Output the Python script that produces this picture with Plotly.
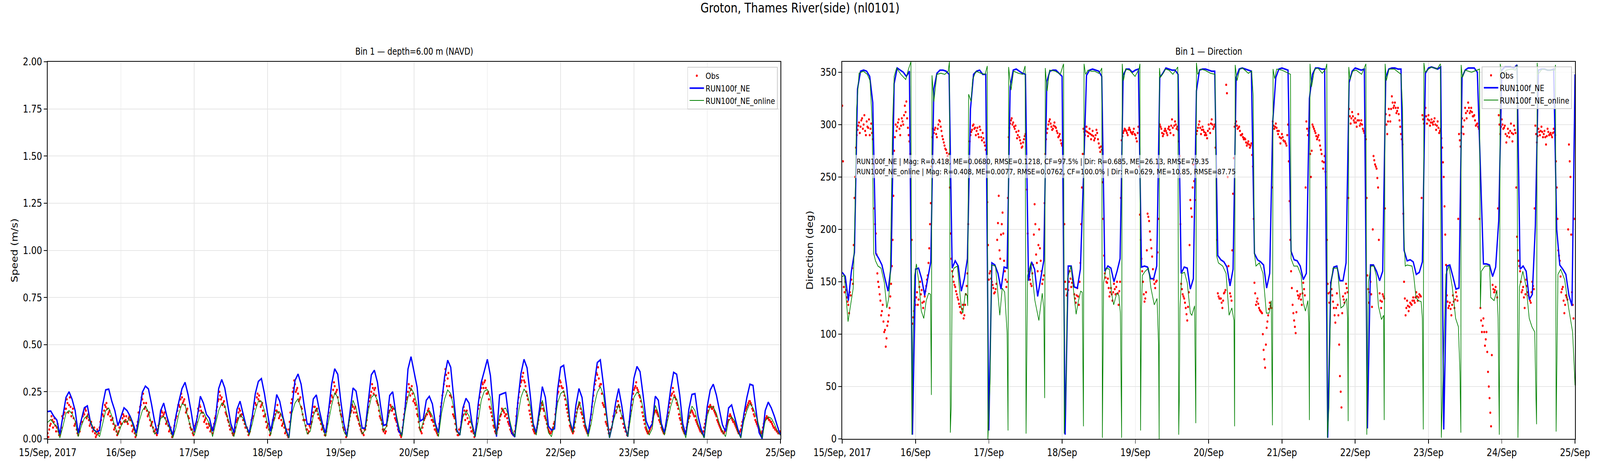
import pandas as pd
import plotly.graph_objects as go

# ---- data ----
start = pd.Timestamp("2017-09-15 00:00")
day_labels = ["15/Sep, 2017", "16/Sep", "17/Sep", "18/Sep", "19/Sep", "20/Sep",
              "21/Sep", "22/Sep", "23/Sep", "24/Sep", "25/Sep"]

model_hours = list(range(241))                 # hourly model output
obs_hours = [i / 2 for i in range(481)]        # observations on the half hour
obs_q_hours = [i / 2 + 0.25 for i in range(480)]  # observations at quarter past / to

# speed (m/s)
run_speed = [
    0.145, 0.148, 0.12, 0.10, 0.025, 0.12, 0.22, 0.25, 0.21, 0.15,
    0.03, 0.10, 0.165, 0.175, 0.09, 0.05, 0.037, 0.045, 0.18, 0.26,
    0.264, 0.20, 0.15, 0.07, 0.12, 0.165, 0.15, 0.12, 0.08, 0.03,
    0.136, 0.247, 0.28, 0.265, 0.185, 0.095, 0.026, 0.15, 0.19, 0.122,
    0.067, 0.02, 0.122, 0.20, 0.267, 0.30, 0.233, 0.143, 0.04, 0.116,
    0.226, 0.19, 0.13, 0.109, 0.04, 0.109, 0.267, 0.315, 0.27, 0.178,
    0.08, 0.033, 0.157, 0.20, 0.136, 0.067, 0.033, 0.12, 0.24, 0.305,
    0.32, 0.24, 0.136, 0.04, 0.12, 0.235, 0.20, 0.12, 0.054, 0.005,
    0.164, 0.31, 0.344, 0.29, 0.178, 0.078, 0.078, 0.212, 0.233, 0.15,
    0.08, 0.03, 0.15, 0.29, 0.372, 0.343, 0.20, 0.08, 0.012, 0.136,
    0.27, 0.253, 0.15, 0.057, 0.057, 0.205, 0.34, 0.364, 0.30, 0.178,
    0.071, 0.078, 0.23, 0.25, 0.136, 0.04, 0.02, 0.15, 0.37, 0.436,
    0.357, 0.274, 0.095, 0.105, 0.205, 0.226, 0.185, 0.08, 0.033, 0.19,
    0.33, 0.417, 0.38, 0.22, 0.047, 0.02, 0.164, 0.215, 0.19, 0.08,
    0.012, 0.185, 0.30, 0.36, 0.422, 0.336, 0.15, 0.012, 0.233, 0.24,
    0.246, 0.116, 0.03, 0.01, 0.20, 0.346, 0.422, 0.377, 0.24, 0.08,
    0.033, 0.15, 0.277, 0.22, 0.067, 0.047, 0.054, 0.26, 0.38, 0.39,
    0.274, 0.095, 0.04, 0.178, 0.267, 0.22, 0.08, 0.028, 0.136, 0.29,
    0.405, 0.419, 0.29, 0.136, 0.006, 0.08, 0.19, 0.267, 0.178, 0.067,
    0.012, 0.178, 0.322, 0.384, 0.357, 0.233, 0.095, 0.054, 0.08, 0.226,
    0.205, 0.08, 0.033, 0.136, 0.26, 0.353, 0.343, 0.233, 0.08, 0.02,
    0.157, 0.236, 0.24, 0.12, 0.054, 0.006, 0.17, 0.26, 0.29, 0.233,
    0.15, 0.074, 0.04, 0.164, 0.18, 0.116, 0.054, 0.006, 0.13, 0.22,
    0.29, 0.284, 0.15, 0.033, 0.002, 0.15, 0.195, 0.164, 0.12, 0.067,
    0.02,
]

online_speed = [
    0.088, 0.103, 0.081, 0.067, 0.005, 0.067, 0.136, 0.15, 0.133, 0.095,
    0.012, 0.067, 0.109, 0.124, 0.095, 0.054, 0.033, 0.012, 0.08, 0.15,
    0.164, 0.122, 0.067, 0.02, 0.067, 0.098, 0.088, 0.116, 0.067, 0.012,
    0.095, 0.15, 0.174, 0.143, 0.08, 0.026, 0.04, 0.109, 0.119, 0.088,
    0.054, 0.005, 0.06, 0.136, 0.186, 0.178, 0.109, 0.054, 0.02, 0.08,
    0.136, 0.14, 0.109, 0.08, 0.012, 0.08, 0.15, 0.19, 0.178, 0.109,
    0.054, 0.012, 0.08, 0.13, 0.109, 0.067, 0.02, 0.08, 0.15, 0.20,
    0.20, 0.15, 0.08, 0.02, 0.088, 0.145, 0.143, 0.109, 0.04, 0.005,
    0.136, 0.19, 0.213, 0.164, 0.095, 0.026, 0.04, 0.122, 0.164, 0.122,
    0.06, 0.012, 0.095, 0.178, 0.245, 0.22, 0.122, 0.04, 0.012, 0.116,
    0.205, 0.164, 0.095, 0.026, 0.047, 0.15, 0.22, 0.236, 0.205, 0.122,
    0.04, 0.067, 0.15, 0.174, 0.143, 0.067, 0.012, 0.136, 0.22, 0.27,
    0.24, 0.178, 0.04, 0.088, 0.136, 0.151, 0.122, 0.067, 0.012, 0.136,
    0.212, 0.26, 0.24, 0.164, 0.04, 0.02, 0.116, 0.147, 0.122, 0.067,
    0.012, 0.095, 0.205, 0.253, 0.262, 0.22, 0.095, 0.02, 0.122, 0.157,
    0.164, 0.122, 0.054, 0.012, 0.122, 0.22, 0.264, 0.24, 0.178, 0.067,
    0.02, 0.122, 0.205, 0.136, 0.033, 0.012, 0.08, 0.19, 0.24, 0.255,
    0.20, 0.088, 0.033, 0.109, 0.20, 0.15, 0.08, 0.012, 0.08, 0.178,
    0.247, 0.277, 0.233, 0.122, 0.005, 0.08, 0.136, 0.183, 0.122, 0.08,
    0.012, 0.122, 0.22, 0.248, 0.233, 0.164, 0.067, 0.02, 0.054, 0.178,
    0.136, 0.067, 0.02, 0.095, 0.17, 0.222, 0.212, 0.15, 0.054, 0.005,
    0.116, 0.174, 0.15, 0.08, 0.04, 0.005, 0.122, 0.17, 0.17, 0.136,
    0.08, 0.04, 0.012, 0.095, 0.117, 0.095, 0.04, 0.005, 0.095, 0.15,
    0.188, 0.164, 0.122, 0.067, 0.005, 0.095, 0.117, 0.109, 0.08, 0.04,
    0.02,
]

obs_speed = [
    .03, .05, .08, .10, .09, .07, .06, .04, .02, .06, .11, .14, .16, .19, .18, .17, .14, .11, .08, .05,
    .02, .04, .09, .12, .13, .15, .12, .10, .08, .06, .05, .03, .02, .04, .06, .10, .13, .15, .17, .16,
    .14, .12, .10, .08, .06, .04, .03, .06, .08, .11, .12, .10, .09, .11, .10, .07, .05, .03, .02, .09,
    .14, .18, .21, .19, .17, .15, .13, .10, .08, .06, .04, .03, .05, .08, .12, .14, .13, .11, .09, .07,
    .05, .03, .02, .07, .11, .15, .18, .21, .22, .20, .18, .15, .12, .08, .05, .03, .04, .08, .12, .15,
    .17, .14, .12, .10, .08, .06, .07, .05, .03, .08, .12, .17, .21, .23, .22, .19, .17, .13, .10, .07,
    .05, .03, .03, .06, .10, .14, .15, .13, .10, .08, .06, .04, .03, .07, .11, .16, .19, .22, .21, .20,
    .18, .15, .12, .09, .07, .05, .03, .06, .10, .13, .15, .14, .12, .10, .08, .06, .04, .02, .05, .14,
    .21, .27, .29, .26, .24, .21, .17, .13, .10, .07, .05, .04, .06, .09, .14, .17, .15, .13, .11, .08,
    .06, .04, .02, .08, .14, .19, .23, .26, .28, .25, .22, .18, .13, .09, .05, .03, .03, .07, .12, .15,
    .17, .16, .14, .11, .08, .05, .03, .02, .05, .10, .17, .22, .25, .27, .26, .23, .19, .15, .11, .08,
    .04, .03, .07, .12, .15, .17, .16, .13, .10, .07, .04, .02, .03, .10, .16, .21, .25, .27, .26, .24,
    .21, .18, .13, .09, .05, .03, .08, .11, .13, .15, .14, .12, .10, .07, .05, .03, .04, .12, .19, .25,
    .31, .34, .32, .28, .23, .17, .12, .08, .04, .02, .05, .09, .13, .15, .13, .11, .09, .06, .04, .03,
    .03, .08, .16, .22, .27, .29, .30, .27, .24, .21, .16, .12, .07, .04, .03, .06, .10, .13, .15, .14,
    .13, .11, .08, .05, .03, .02, .04, .12, .19, .25, .30, .33, .31, .28, .23, .18, .13, .09, .05, .03,
    .04, .08, .13, .16, .18, .15, .11, .08, .05, .03, .04, .06, .09, .16, .24, .28, .30, .27, .25, .21,
    .16, .12, .07, .05, .03, .06, .12, .16, .18, .16, .13, .09, .06, .04, .03, .07, .13, .20, .26, .31,
    .34, .32, .29, .24, .18, .13, .08, .05, .03, .05, .09, .12, .15, .17, .18, .15, .11, .08, .06, .04,
    .03, .09, .15, .21, .26, .28, .27, .25, .22, .17, .12, .08, .05, .03, .04, .06, .09, .13, .15, .14,
    .12, .09, .06, .04, .03, .07, .12, .17, .21, .24, .25, .22, .19, .16, .11, .08, .05, .03, .04, .08,
    .11, .14, .15, .13, .12, .09, .07, .05, .04, .03, .06, .10, .14, .17, .18, .16, .17, .14, .12, .09,
    .07, .05, .04, .03, .05, .08, .10, .13, .11, .09, .08, .06, .04, .03, .05, .09, .11, .15, .17, .19,
    .20, .18, .15, .12, .09, .07, .05, .03, .04, .08, .10, .12, .11, .10, .09, .07, .06, .05, .04, .03,
    .04,
]

obs_speed_q = [
    .01, .07, .12, .06, .11, .04, .08, .02, .04, .12, .13, .16, .21, .14, .22, .12, .16, .07, .09, .03,
    .05, .08, .09, .14, .16, .11, .13, .07, .09, .04, .06, .01, .05, .03, .09, .13, .12, .18, .19, .13,
    .15, .10, .11, .05, .07, .02, .04, .09, .08, .13, .09, .12, .08, .12, .10, .04, .06, .01, .07, .14,
    .17, .22, .24, .16, .19, .12, .14, .07, .09, .04, .05, .02, .07, .11, .15, .12, .14, .08, .10, .04,
    .06, .01, .04, .10, .12, .18, .17, .24, .19, .21, .14, .16, .11, .06, .05, .02, .07, .09, .16, .18,
    .15, .14, .09, .11, .06, .08, .04, .06, .05, .11, .15, .20, .25, .21, .18, .20, .14, .12, .09, .05,
    .06, .02, .04, .09, .11, .16, .12, .13, .10, .06, .06, .02, .04, .10, .12, .19, .18, .24, .23, .17,
    .19, .12, .13, .06, .08, .02, .06, .10, .11, .15, .18, .11, .13, .07, .09, .03, .05, .01, .09, .19,
    .25, .31, .25, .27, .20, .22, .16, .10, .10, .05, .03, .07, .08, .12, .17, .15, .16, .11, .10, .05,
    .07, .02, .04, .12, .17, .20, .22, .30, .24, .26, .19, .15, .12, .06, .05, .01, .05, .10, .14, .18,
    .14, .17, .12, .10, .07, .04, .03, .05, .07, .14, .20, .23, .29, .24, .27, .20, .18, .12, .10, .05,
    .05, .04, .10, .14, .18, .15, .16, .11, .09, .05, .04, .01, .06, .13, .19, .22, .29, .23, .28, .20,
    .19, .16, .12, .06, .04, .06, .10, .12, .13, .16, .13, .10, .09, .05, .04, .02, .08, .17, .23, .29,
    .37, .28, .35, .23, .22, .13, .11, .05, .02, .05, .06, .12, .17, .10, .15, .08, .09, .04, .05, .01,
    .05, .11, .18, .25, .30, .27, .31, .24, .25, .17, .14, .10, .06, .03, .05, .08, .12, .16, .15, .12,
    .13, .09, .07, .04, .03, .02, .07, .16, .22, .28, .31, .35, .30, .25, .21, .15, .11, .07, .04, .03,
    .06, .10, .15, .19, .16, .12, .10, .06, .04, .03, .05, .08, .13, .20, .25, .31, .28, .27, .23, .18,
    .14, .10, .06, .04, .04, .09, .14, .17, .19, .14, .11, .07, .05, .03, .05, .10, .17, .23, .29, .35,
    .38, .28, .29, .19, .17, .09, .07, .03, .05, .06, .12, .15, .14, .20, .17, .11, .12, .06, .04, .02,
    .06, .12, .18, .24, .27, .30, .26, .23, .20, .14, .10, .06, .04, .03, .05, .07, .11, .14, .15, .13,
    .10, .08, .05, .03, .05, .10, .14, .19, .23, .27, .23, .21, .18, .13, .10, .06, .04, .03, .06, .09,
    .12, .15, .14, .12, .10, .08, .06, .04, .03, .04, .08, .12, .15, .17, .17, .16, .15, .13, .10, .08,
    .06, .04, .03, .04, .07, .09, .12, .12, .10, .09, .07, .05, .03, .04, .07, .10, .13, .16, .18, .20,
    .19, .16, .13, .10, .08, .06, .04, .03, .06, .09, .11, .11, .10, .09, .08, .06, .05, .04, .03, .03,
]

# direction (deg)
run_dir = [
    159, 155, 132, 160, 178, 334, 351, 352, 351, 346,
    321, 177, 172, 166, 153, 141, 165, 339, 354, 352,
    350, 346, 351, 4, 162, 163, 153, 137, 153, 169,
    334, 349, 352, 352, 351, 348, 163, 170, 165, 141,
    153, 172, 315, 348, 351, 352, 348, 348, 8, 168,
    166, 158, 143, 164, 163, 336, 352, 353, 351, 349,
    348, 151, 169, 162, 136, 153, 170, 341, 351, 352,
    352, 349, 346, 4, 165, 165, 145, 144, 162, 250,
    347, 352, 353, 352, 351, 346, 160, 165, 163, 150,
    160, 172, 347, 353, 353, 350, 352, 353, 164, 165,
    164, 153, 153, 165, 345, 349, 354, 353, 352, 352,
    348, 158, 164, 163, 143, 153, 332, 352, 353, 353,
    352, 351, 351, 175, 171, 169, 164, 146, 162, 345,
    353, 354, 353, 352, 351, 177, 171, 169, 166, 144,
    158, 303, 345, 353, 354, 353, 352, 179, 171, 170,
    165, 152, 158, 325, 348, 354, 354, 353, 353, 1,
    149, 164, 165, 151, 151, 168, 340, 351, 354, 353,
    352, 353, 10, 166, 166, 160, 151, 160, 345, 353,
    354, 354, 353, 353, 180, 170, 171, 169, 157, 159,
    169, 349, 354, 355, 354, 353, 355, 9, 165, 166,
    155, 143, 144, 345, 352, 354, 354, 354, 350, 260,
    167, 167, 166, 155, 164, 208, 352, 355, 355, 355,
    354, 357, 162, 165, 160, 133, 138, 203, 352, 353,
    353, 352, 352, 353, 200, 166, 162, 157, 137, 127,
    348,
]

online_dir_hours = [
    0, 0.7, 1.9, 2.6, 3.4, 3.6, 4.2, 4.7, 5.5, 6.9, 8.2, 9.1,
    9.8, 10.3, 10.9, 11.7, 12.7, 13.8, 14.6, 15.2, 15.7, 16.5, 17, 17.8,
    19.2, 20.8, 21.6, 22.3, 22.5, 22.8, 23.2, 23.7, 24.3, 25.1, 25.9, 26.7,
    27.5, 28.3, 28.9, 29.2, 29.4, 30, 31, 32.3, 33.6, 34.7, 35.1, 35.4,
    35.7, 36, 36.6, 37.7, 39, 39.5, 40.3, 40.9, 41.1, 41.4, 42.2, 42.7,
    43.8, 45.4, 46.8, 47.5, 47.7, 48.4, 48.9, 50.2, 51.6, 52.4, 53.2, 54,
    54.3, 54.5, 55.3, 56.1, 57.7, 59.1, 59.9, 60.2, 60.7, 61.8, 63.1, 64.4,
    65.5, 66, 66.3, 66.5, 67.1, 67.9, 69.8, 71.4, 72.5, 72.7, 73.3, 73.8,
    74.9, 75.6, 76.6, 77.3, 78.1, 78.6, 79, 79.2, 79.7, 80.5, 81.6, 82.7,
    84, 84.7, 85, 85.2, 85.6, 86.4, 87.5, 88.2, 88.9, 89.9, 90.6, 91.1,
    91.5, 91.7, 92.1, 92.8, 94.1, 95.9, 97.2, 97.5, 97.7, 98, 98.3, 99.2,
    100.3, 101.1, 102.2, 103.1, 103.6, 103.8, 103.9, 104.2, 105.1, 105.9, 107, 108.3,
    109.9, 110.2, 110.4, 110.6, 111.2, 112.1, 113, 114, 114.5, 115.4, 115.8, 116,
    116.4, 117.3, 118.7, 120.6, 122.1, 122.6, 123.2, 124.6, 125.7, 126.7, 127.6, 128.3,
    128.5, 128.7, 129.3, 130.2, 131.1, 133, 134.1, 134.6, 135, 135.5, 136.6, 137.8,
    138.5, 138.9, 139.8, 140.5, 140.9, 141.1, 141.6, 142.3, 144, 146, 146.8, 147,
    147.9, 149.1, 150.3, 151, 151.7, 152.5, 152.8, 153, 153.2, 153.7, 154.7, 155.8,
    157.2, 158.3, 158.7, 158.9, 159.4, 160, 160.7, 162.2, 163.3, 164.2, 165.2, 165.5,
    165.7, 165.9, 166.3, 167.2, 168.3, 170.1, 171.5, 171.8, 172.3, 173.2, 174.1, 174.9,
    175.6, 176.6, 177.3, 177.5, 177.8, 178.2, 179.1, 180.8, 183, 183.5, 184, 184.4,
    185, 186.6, 187.2, 187.9, 188.7, 189.6, 190, 190.3, 190.5, 190.9, 192, 193.1,
    194.8, 195.9, 196.2, 196.8, 197.7, 198.7, 199.8, 200.9, 201.8, 202.3, 202.6, 202.7,
    203.1, 204, 206.1, 207.9, 208.7, 209, 209.3, 210.5, 212, 212.4, 213.5, 214.4,
    214.8, 215.2, 215.5, 216.1, 217.4, 219.2, 220.5, 221, 221.3, 221.8, 222.9, 224,
    225, 225.9, 226.8, 227.2, 227.4, 227.6, 227.9, 229.2, 231.3, 233.3, 233.6, 233.8,
    234.4, 235.3, 236.6, 237.9, 239.2, 239.8, 240,
]
online_dir = [
    155, 156, 112, 125, 140, 144, 220, 315, 349, 351, 348, 342,
    303, 177, 170, 165, 163, 149, 125, 134, 153, 303, 346, 354,
    348, 343, 352, 358, 360, 4, 101, 156, 167, 149, 122, 115,
    132, 139, 138, 42, 347, 322, 348, 349, 348, 351, 360, 6,
    32, 158, 163, 165, 125, 120, 139, 137, 127, 329, 322, 343,
    351, 349, 348, 356, 0, 53, 166, 165, 118, 144, 140, 101,
    8, 355, 333, 351, 349, 348, 356, 5, 156, 168, 132, 113,
    139, 125, 39, 354, 332, 352, 351, 348, 358, 5, 53, 153,
    165, 146, 119, 131, 141, 140, 12, 358, 348, 352, 351, 351,
    349, 352, 354, 1, 149, 163, 162, 139, 128, 139, 137, 120,
    1, 358, 342, 353, 352, 346, 353, 358, 8, 125, 156, 160,
    163, 144, 128, 134, 89, 0, 354, 345, 349, 353, 352, 348,
    355, 4, 39, 125, 158, 159, 149, 120, 118, 127, 15, 359,
    348, 353, 352, 349, 348, 175, 168, 165, 158, 118, 125, 113,
    12, 357, 342, 353, 354, 349, 351, 327, 177, 165, 168, 158,
    134, 120, 120, 132, 13, 353, 344, 353, 352, 349, 348, 172,
    165, 165, 156, 130, 122, 132, 111, 18, 358, 336, 353, 354,
    349, 353, 358, 1, 30, 144, 163, 163, 125, 127, 134, 115,
    17, 355, 343, 351, 352, 348, 358, 4, 149, 165, 165, 156,
    127, 114, 118, 18, 358, 342, 353, 353, 348, 316, 190, 165,
    166, 165, 155, 135, 132, 131, 115, 9, 359, 350, 353, 355,
    353, 358, 1, 64, 157, 165, 145, 115, 107, 64, 6, 357,
    345, 352, 350, 352, 353, 125, 160, 165, 165, 135, 132, 142,
    115, 4, 358, 347, 352, 353, 352, 357, 1, 145, 160, 145,
    115, 107, 102, 39, 14, 359, 348, 353, 352, 352, 357, 7,
    157, 162, 152, 125, 102, 64, 51,
]

obs_dir = [
    318, 145, 150, 135, 128, 140, 152, 148, 230, 278, 295, 302, 298, 306, 300, 294, 303, 297, 290, 301,
    286, 220, 196, 158, 145, 132, 122, 112, 104, 96, 112, 125, 148, 190, 275, 300, 298, 305, 290, 306,
    300, 318, 322, 297, 284, 250, 110, 122, 128, 140, 133, 150, 142, 125, 136, 146, 156, 182, 225, 288,
    292, 297, 288, 300, 303, 294, 286, 280, 276, 270, 272, 196, 160, 150, 145, 138, 133, 126, 120, 128,
    118, 138, 158, 268, 290, 295, 300, 297, 294, 291, 298, 288, 292, 283, 276, 226, 152, 160, 150, 144,
    140, 148, 206, 180, 195, 216, 170, 152, 150, 288, 301, 306, 302, 296, 293, 290, 288, 282, 279, 286,
    291, 238, 160, 152, 146, 166, 224, 176, 160, 200, 170, 148, 156, 272, 292, 300, 305, 298, 296, 302,
    297, 292, 289, 285, 280, 252, 150, 137, 142, 160, 145, 152, 138, 130, 144, 128, 168, 240, 296, 290,
    298, 289, 296, 286, 294, 285, 290, 292, 282, 274, 276, 210, 158, 150, 153, 136, 144, 132, 148, 138,
    150, 128, 150, 285, 292, 296, 294, 290, 297, 293, 291, 296, 290, 284, 298, 214, 172, 150, 131, 140,
    215, 208, 190, 174, 152, 144, 151, 210, 300, 296, 289, 294, 294, 290, 298, 292, 305, 290, 303, 296,
    295, 270, 148, 138, 134, 125, 113, 140, 228, 212, 262, 228, 291, 297, 303, 291, 298, 293, 292, 287,
    300, 292, 305, 296, 300, 250, 139, 134, 134, 125, 139, 142, 330, 165, 139, 132, 234, 298, 303, 296,
    298, 290, 291, 286, 286, 280, 284, 278, 282, 260, 149, 128, 134, 125, 122, 120, 85, 68, 106, 118,
    130, 125, 303, 296, 301, 294, 294, 282, 291, 285, 284, 280, 300, 227, 160, 128, 113, 101, 141, 134,
    138, 128, 149, 137, 303, 290, 297, 250, 300, 296, 292, 286, 290, 280, 272, 258, 270, 240, 148, 130,
    149, 137, 125, 111, 139, 118, 60, 30, 136, 130, 148, 140, 315, 301, 312, 304, 306, 298, 310, 299,
    304, 296, 292, 286, 156, 130, 150, 126, 270, 262, 258, 240, 139, 125, 138, 134, 310, 291, 315, 303,
    327, 316, 321, 311, 316, 304, 291, 281, 150, 118, 132, 122, 130, 128, 135, 130, 140, 132, 138, 136,
    309, 301, 316, 301, 309, 299, 305, 300, 306, 295, 303, 292, 296, 278, 250, 195, 137, 125, 130, 118,
    137, 125, 140, 132, 291, 279, 306, 291, 316, 306, 321, 311, 316, 308, 309, 299, 301, 296, 125, 102,
    115, 89, 102, 64, 39, 12, 147, 140, 145, 135, 309, 291, 305, 296, 299, 283, 296, 288, 301, 284,
    299, 292, 193, 170, 160, 140, 145, 125, 152, 140, 135, 130, 150, 143, 299, 283, 296, 290, 298, 288,
    294, 281, 296, 290, 292, 288, 296, 290, 240, 180, 170, 140, 145, 120, 137, 133, 281, 250, 140, 115,
    300,
]

obs_dir_q = [
    265, 140, 142, 131, 120, 137, 163, 185, 250, 290, 299, 292, 304, 296, 309, 290, 298, 305, 296, 292,
    262, 205, 176, 150, 138, 118, 128, 102, 88, 108, 118, 136, 165, 232, 288, 294, 302, 296, 299, 303,
    309, 312, 306, 290, 272, 190, 116, 132, 135, 128, 145, 138, 130, 131, 141, 152, 168, 205, 260, 296,
    295, 291, 296, 304, 298, 289, 283, 277, 273, 266, 240, 172, 155, 147, 141, 135, 129, 121, 124, 115,
    128, 146, 205, 284, 293, 299, 296, 290, 297, 288, 295, 285, 287, 280, 255, 185, 158, 153, 147, 139,
    143, 190, 232, 172, 205, 196, 160, 145, 230, 297, 304, 300, 298, 299, 287, 294, 285, 278, 283, 289,
    270, 196, 155, 148, 158, 195, 205, 168, 185, 182, 160, 152, 225, 286, 296, 303, 301, 295, 299, 298,
    294, 288, 291, 282, 268, 205, 143, 139, 150, 153, 149, 146, 134, 137, 136, 150, 205, 272, 293, 294,
    293, 292, 291, 290, 289, 287, 295, 286, 278, 279, 245, 175, 154, 149, 144, 140, 138, 140, 143, 145,
    139, 141, 230, 289, 294, 295, 292, 295, 295, 292, 293, 291, 287, 292, 260, 190, 160, 138, 134, 180,
    212, 198, 182, 162, 148, 150, 178, 262, 298, 292, 291, 296, 292, 296, 295, 299, 297, 299, 300, 298,
    284, 205, 143, 136, 130, 119, 126, 185, 220, 240, 246, 262, 294, 300, 297, 295, 295, 290, 290, 294,
    296, 301, 300, 298, 278, 190, 136, 134, 130, 132, 140, 338, 250, 152, 136, 180, 268, 301, 299, 297,
    294, 290, 288, 287, 283, 282, 281, 280, 271, 210, 139, 131, 129, 123, 121, 100, 76, 90, 112, 124,
    127, 240, 299, 298, 297, 291, 288, 287, 288, 284, 282, 290, 265, 190, 144, 120, 107, 121, 137, 136,
    133, 139, 143, 240, 296, 294, 272, 275, 298, 294, 289, 288, 285, 276, 265, 264, 255, 190, 139, 140,
    143, 131, 118, 125, 128, 90, 45, 120, 133, 139, 144, 230, 308, 306, 308, 302, 302, 304, 304, 301,
    300, 294, 289, 230, 143, 140, 138, 200, 266, 260, 249, 190, 132, 131, 136, 220, 300, 303, 309, 315,
    321, 318, 316, 313, 310, 298, 286, 215, 134, 125, 127, 126, 129, 132, 132, 135, 136, 135, 137, 230,
    305, 308, 308, 305, 304, 302, 302, 303, 300, 299, 297, 294, 287, 264, 222, 166, 131, 127, 124, 128,
    131, 133, 136, 210, 285, 292, 298, 304, 311, 313, 316, 313, 312, 308, 304, 300, 298, 210, 113, 108,
    102, 95, 83, 50, 25, 80, 143, 142, 140, 220, 300, 298, 300, 297, 291, 289, 292, 294, 292, 291,
    295, 240, 180, 165, 150, 142, 135, 138, 146, 137, 132, 140, 146, 220, 291, 289, 293, 294, 293, 291,
    288, 289, 293, 291, 290, 292, 293, 265, 210, 175, 155, 143, 132, 128, 135, 200, 265, 195, 128, 210,
]

stats_text = (
    "RUN100f_NE | Mag: R=0.418, ME=0.0680, RMSE=0.1218, CF=97.5% | Dir: R=0.685, ME=26.13, RMSE=79.35<br>"
    "RUN100f_NE_online | Mag: R=0.408, ME=0.0077, RMSE=0.0762, CF=100.0% | Dir: R=0.629, ME=10.85, RMSE=87.75"
)


def to_time(hours):
    return start + pd.to_timedelta(hours, unit="h")


t_model = to_time(model_hours)
t_obs_all = to_time(obs_hours + obs_q_hours)
obs_speed_all = obs_speed + obs_speed_q
obs_dir_all = obs_dir + obs_dir_q
t_online_dir = to_time(online_dir_hours)
day_ticks = [start + pd.Timedelta(days=i) for i in range(11)]

FONT = "DejaVu Sans"
W, H = 5000, 1200
ML, MR, MT, MB = 149, 78, 158, 77
PW = W - ML - MR
PH = H - MT - MB


def px_x(px):
    return (px - ML) / PW


def px_y(py):
    return (H - MB - py) / PH


dom_left = [0, px_x(2439)]
dom_right = [px_x(2632), 1]

fig = go.Figure()

# left: speed
fig.add_trace(go.Scatter(x=t_obs_all, y=obs_speed_all, mode="markers", name="Obs",
                         marker=dict(color="red", size=6), xaxis="x", yaxis="y", legend="legend"))
fig.add_trace(go.Scatter(x=t_model, y=run_speed, mode="lines", name="RUN100f_NE",
                         line=dict(color="blue", width=4), xaxis="x", yaxis="y", legend="legend"))
fig.add_trace(go.Scatter(x=t_model, y=online_speed, mode="lines", name="RUN100f_NE_online",
                         line=dict(color="green", width=2), xaxis="x", yaxis="y", legend="legend"))

# right: direction
fig.add_trace(go.Scatter(x=t_obs_all, y=obs_dir_all, mode="markers", name="Obs",
                         marker=dict(color="red", size=6), xaxis="x2", yaxis="y2", legend="legend2"))
fig.add_trace(go.Scatter(x=t_model, y=run_dir, mode="lines", name="RUN100f_NE",
                         line=dict(color="blue", width=4), xaxis="x2", yaxis="y2", legend="legend2"))
fig.add_trace(go.Scatter(x=t_online_dir, y=online_dir, mode="lines", name="RUN100f_NE_online",
                         line=dict(color="green", width=2), xaxis="x2", yaxis="y2", legend="legend2"))

axis_common = dict(
    showline=True, linecolor="black", linewidth=2, mirror=True,
    ticks="outside", ticklen=10, tickwidth=2, tickcolor="black",
    showgrid=True, gridcolor="#e6e6e6", gridwidth=2, zeroline=False,
    tickfont=dict(family=FONT, size=27, color="black"),
)
xcommon = dict(axis_common, range=[day_ticks[0], day_ticks[-1]],
               tickmode="array", tickvals=day_ticks, ticktext=day_labels)

legend_common = dict(
    bgcolor="rgba(255,255,255,0.8)", bordercolor="#cccccc", borderwidth=2,
    font=dict(family=FONT, size=22, color="black"),
    xanchor="right", yanchor="top", itemwidth=45, tracegroupgap=0,
)

fig.update_layout(
    width=W, height=H,
    margin=dict(l=ML, r=MR, t=MT, b=MB),
    paper_bgcolor="white", plot_bgcolor="white",
    font=dict(family=FONT, color="black"),
    title=dict(text="Groton, Thames River(side) (nl0101)", x=0.5, xanchor="center",
               y=1 - 20 / H, yanchor="middle", yref="container",
               font=dict(family=FONT, size=34, color="black")),
    xaxis=dict(xcommon, domain=dom_left, anchor="y"),
    yaxis=dict(axis_common, domain=[0, 1], anchor="x", range=[0, 2],
               tickmode="array", tickvals=[0, 0.25, 0.5, 0.75, 1.0, 1.25, 1.5, 1.75, 2.0],
               tickformat=".2f"),
    xaxis2=dict(xcommon, domain=dom_right, anchor="y2"),
    yaxis2=dict(axis_common, domain=[0, 1], anchor="x2", range=[0, 360],
                tickmode="array", tickvals=[0, 50, 100, 150, 200, 250, 300, 350]),
    legend=dict(legend_common, x=px_x(2430), y=px_y(171)),
    legend2=dict(legend_common, x=px_x(4912), y=px_y(170)),
    showlegend=True,
)

annotations = [
    dict(text="Bin 1 \u2014 depth=6.00 m (NAVD)", x=(dom_left[0] + dom_left[1]) / 2, y=1,
         xref="paper", yref="paper", xanchor="center", yanchor="bottom", yshift=10,
         showarrow=False, font=dict(family=FONT, size=24, color="black")),
    dict(text="Bin 1 \u2014 Direction", x=(dom_right[0] + dom_right[1]) / 2, y=1,
         xref="paper", yref="paper", xanchor="center", yanchor="bottom", yshift=10,
         showarrow=False, font=dict(family=FONT, size=24, color="black")),
    dict(text="Speed (m/s)", x=px_x(45), y=0.5, xref="paper", yref="paper",
         xanchor="center", yanchor="middle", textangle=-90, showarrow=False,
         font=dict(family=FONT, size=27, color="black")),
    dict(text="Direction (deg)", x=px_x(2531), y=0.5, xref="paper", yref="paper",
         xanchor="center", yanchor="middle", textangle=-90, showarrow=False,
         font=dict(family=FONT, size=27, color="black")),
    dict(text=stats_text, x=px_x(2672), y=px_y(396), xref="paper", yref="paper",
         xanchor="left", yanchor="top", align="left", showarrow=False,
         bgcolor="rgba(255,255,255,0.6)", borderpad=4,
         font=dict(family=FONT, size=20, color="black")),
]
fig.update_layout(annotations=annotations)

# the browser viewport may be narrower than 5000 px: fit the 5000x1200 figure into it
fit_script = (
    "var gd=document.getElementById('{plot_id}');"
    "document.documentElement.style.overflow='hidden';"
    "document.body.style.margin='0';document.body.style.overflow='hidden';"
    "var sx=window.innerWidth/5000, sy=window.innerHeight/1200;"
    "gd.style.transformOrigin='0 0';"
    "gd.style.transform='scale('+sx+','+sy+')';"
)
fig.write_html("out.html", post_script=fit_script, config={"displayModeBar": False})
